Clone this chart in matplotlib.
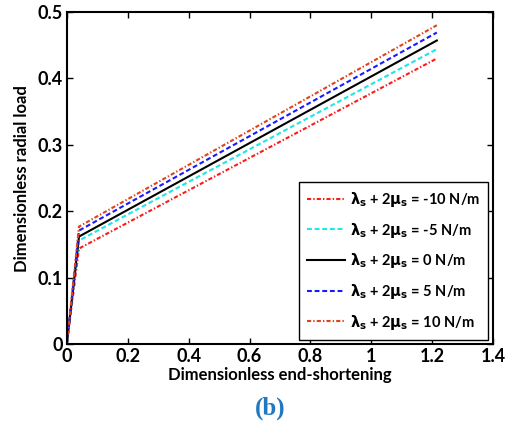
import matplotlib
matplotlib.use("Agg")
import matplotlib.pyplot as plt

plt.rcParams['font.family'] = ['Lato', 'DejaVu Sans']
plt.rcParams['font.weight'] = 'bold'
plt.rcParams['mathtext.fontset'] = 'custom'
plt.rcParams['mathtext.rm'] = 'Lato:bold'
plt.rcParams['mathtext.it'] = 'DejaVu Sans:bold'
plt.rcParams['mathtext.bf'] = 'Lato:bold'
plt.rcParams['lines.scale_dashes'] = False

# end-shortening points (origin, knee, end)
x_vals = [0.0, 0.04, 1.215]
gamma_vals = [-10, -5, 0, 5, 10]
load_curves = {
    -10: [0.0, 0.144, 0.430],
    -5: [0.0, 0.156, 0.444],
    0: [0.0, 0.162, 0.457],
    5: [0.0, 0.171, 0.469],
    10: [0.0, 0.177, 0.480],
}
dashdot = (3, 1.5, 1, 1.5)
dashed = (3.5, 2)
styles = {
    -10: dict(color='#ff1a1a', dashes=dashdot),
    -5: dict(color='#22e5e5', dashes=dashed),
    0: dict(color='black', ls='-'),
    5: dict(color='#1a1aff', dashes=dashed),
    10: dict(color='#e0421a', dashes=dashdot),
}

fig = plt.figure(figsize=(5.1, 4.26), dpi=100)
ax = fig.add_axes([0.131, 0.192, 0.836, 0.780])

for g in gamma_vals:
    ax.plot(x_vals, load_curves[g], lw=1.5,
            label=r'$\lambda_s$ + 2$\mu_s$ = %d N/m' % g, **styles[g])

ax.set_xlim(0, 1.4)
ax.set_ylim(0, 0.5)
ax.set_xticks([0, 0.2, 0.4, 0.6, 0.8, 1, 1.2, 1.4])
ax.set_xticklabels(['0', '0.2', '0.4', '0.6', '0.8', '1', '1.2', '1.4'])
ax.set_yticks([0, 0.1, 0.2, 0.3, 0.4, 0.5])
ax.set_yticklabels(['0', '0.1', '0.2', '0.3', '0.4', '0.5'])
ax.tick_params(direction='in', top=True, right=True, labelsize=13, width=1, length=4, pad=3)
for s in ax.spines.values():
    s.set_linewidth(1.5)

ax.set_xlabel('Dimensionless end-shortening', fontsize=12, fontweight='bold', labelpad=1)
ax.set_ylabel('Dimensionless radial load', fontsize=12, fontweight='bold', labelpad=5)

leg = ax.legend(loc='lower right', bbox_to_anchor=(0.988, 0.014), fontsize=10.5,
                fancybox=False, framealpha=1, edgecolor='black',
                handlelength=2.6, handletextpad=0.35, labelspacing=0.8, borderpad=0.55,
                borderaxespad=0)
leg.get_frame().set_linewidth(1.0)

fig.text(0.53, 0.015, '(b)', color='#1f78c0', fontsize=18, fontweight='bold',
         family='Liberation Serif', ha='center', va='bottom')

fig.savefig('out.png', dpi=100)
